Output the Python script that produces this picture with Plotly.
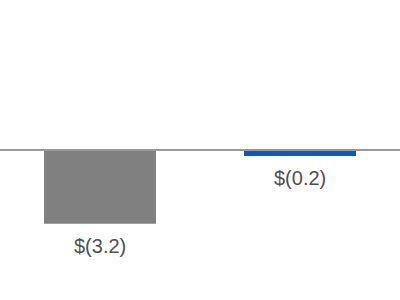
import plotly.graph_objects as go

categories = [0, 1]
values = [-3.2, -0.26]
labels = ["$(3.2)", "$(0.2)"]
colors = ["#808080", "#0f5ab4"]

fig = go.Figure()
fig.add_trace(go.Bar(
    x=categories, y=values, width=0.56,
    marker=dict(color=colors, line=dict(width=0)),
    hoverinfo="skip",
))
for c, v, t in zip(categories, values, labels):
    fig.add_annotation(x=c, y=v, text=t, showarrow=False, yanchor="top",
                       yshift=-9, font=dict(family="Liberation Sans, Arial", size=20, color="#505050"))
fig.add_shape(type="line", xref="paper", x0=0, x1=1, yref="y", y0=0, y1=0,
              line=dict(color="#999999", width=2), layer="above")
fig.update_layout(
    width=400, height=300, margin=dict(l=0, r=0, t=0, b=0),
    paper_bgcolor="white", plot_bgcolor="white", showlegend=False,
    xaxis=dict(range=[-0.5, 1.5], visible=False),
    yaxis=dict(range=[-6.5, 6.5], visible=False),
)
fig.write_html("out.html")
